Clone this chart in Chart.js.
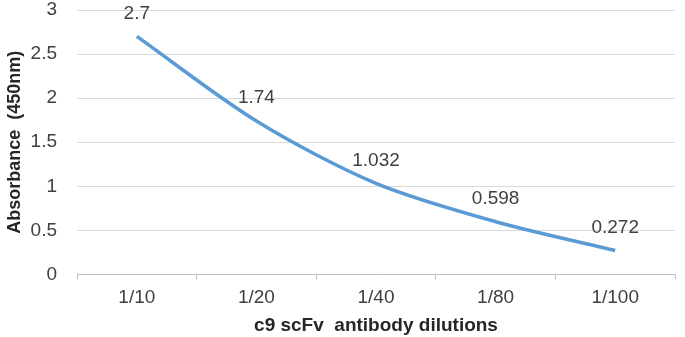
<!DOCTYPE html>
<html>
<head>
<meta charset="utf-8">
<script src="https://cdn.jsdelivr.net/npm/chart.js@4"></script>
<style>
  html, body { margin: 0; padding: 0; background: #fff; }
  .chart__body { width: 685px; height: 337px; }
</style>
</head>
<body>
<div class="chart__body"><canvas id="myChart"></canvas></div>
<script>
// данные
const dilutions = ["1/10", "1/20", "1/40", "1/80", "1/100"];
const absorbance = [2.7, 1.74, 1.032, 0.598, 0.272];
const yTicks = [0, 0.5, 1, 1.5, 2, 2.5, 3];

const fontFamily = "'Liberation Sans', Arial, sans-serif";

// подписи значений над точками
const valueLabels = {
  id: "valueLabels",
  afterDatasetsDraw(chart) {
    const ctx = chart.ctx;
    const meta = chart.getDatasetMeta(0);
    ctx.save();
    ctx.font = "19px " + fontFamily;
    ctx.fillStyle = "#404040";
    ctx.textAlign = "center";
    ctx.textBaseline = "middle";
    meta.data.forEach((pt, i) => {
      ctx.fillText(String(absorbance[i]), pt.x, pt.y - 23);
    });
    ctx.restore();
  },
};

const config = {
  type: "line",
  data: {
    labels: dilutions,
    datasets: [
      {
        label: "Absorbance",
        data: absorbance,
        borderColor: "#5B9BD5",
        backgroundColor: "#5B9BD5",
        borderWidth: 3.5,
        tension: 0.3,
        pointRadius: 0,
        fill: false,
      },
    ],
  },
  options: {
    responsive: true,
    maintainAspectRatio: false,
    animation: false,
    layout: { padding: { top: 10, right: 10, left: 3, bottom: 0 } },
    scales: {
      x: {
        offset: true,
        grid: {
          offset: true,
          drawOnChartArea: false,
          drawTicks: true,
          tickLength: 5,
          color: "#bfbfbf",
        },
        border: { color: "#bfbfbf" },
        ticks: {
          color: "#404040",
          font: { family: fontFamily, size: 19 },
          padding: 7,
        },
        title: {
          display: true,
          text: "c9 scFv  antibody dilutions",
          color: "#262626",
          font: { family: fontFamily, size: 19, weight: "bold" },
          padding: { top: -2, bottom: 0 },
        },
      },
      y: {
        min: 0,
        max: 3,
        afterBuildTicks(scale) {
          scale.ticks = yTicks.map((v) => ({ value: v }));
        },
        // ширина оси и без лишнего отступа сверху
        afterFit(scale) {
          scale.width = 74;
          scale.paddingTop = 0;
          scale.paddingBottom = 0;
        },
        grid: { color: "#d9d9d9", drawTicks: false },
        border: { display: false },
        ticks: {
          color: "#404040",
          font: { family: fontFamily, size: 19 },
          padding: 20,
          callback: (v) => String(v),
        },
        title: {
          display: true,
          text: "Absorbance  (450nm)",
          color: "#262626",
          font: { family: fontFamily, size: 18, weight: "bold" },
          padding: { top: 1, bottom: 2 },
        },
      },
    },
    plugins: {
      legend: { display: false },
      tooltip: { enabled: false },
    },
  },
  plugins: [valueLabels],
};

const myChart = new Chart(document.getElementById("myChart"), config);
</script>
</body>
</html>
